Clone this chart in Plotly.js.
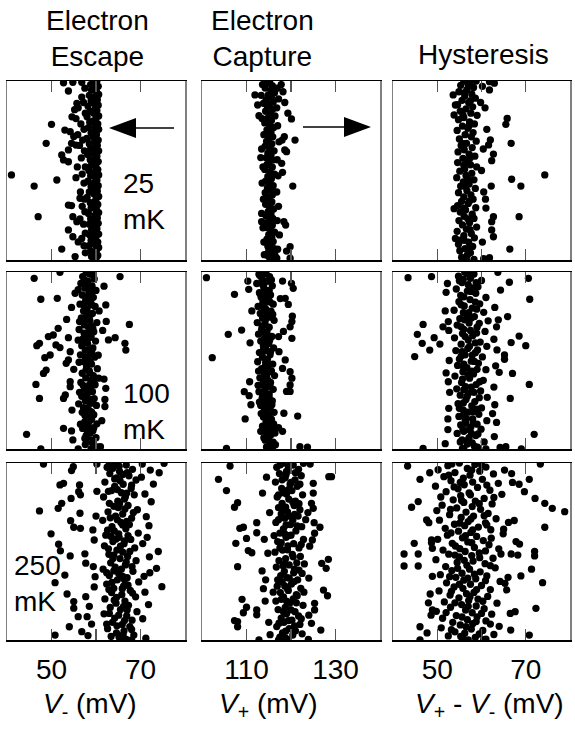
<!DOCTYPE html>
<html><head><meta charset="utf-8">
<script src="https://cdn.plot.ly/plotly-3.0.1.min.js"></script>
<style>html,body{margin:0;padding:0;background:#fff}#chart{width:575px;height:730px}</style>
</head><body><div id="chart"></div>
<script>
// ---- DATA: [voltage (mV), sweep index 0..100 (top = 0)] ----
const columnTitles = ['Electron<br>Escape', 'Electron<br>Capture', 'Hysteresis'];
const tempLabels = ['25<br>mK', '100<br>mK', '250<br>mK'];
const xTitles = ['<i>V</i><sub>-</sub> (mV)', '<i>V</i><sub>+</sub> (mV)', '<i>V</i><sub>+</sub> - <i>V</i><sub>-</sub> (mV)'];
const xLabelVals = [[50, 70], [110, 130], [50, 70]];
const xMinorVals = [[60], [120], [60]];

const escape25 = [[60.2,0],[59.8,1.5],[60.5,3],[59.4,4.5],[60.1,6],[60.6,7.5],[59.7,9],[60.3,10.5],[59.2,12],[60.5,13.5],[59.9,15],[60.2,16.5],[59.5,18],[60.6,19.5],[60.0,21],[59.3,22.5],[60.4,24],[59.8,25.5],[60.6,27],[59.6,28.5],[60.1,30],[59.4,31.5],[60.5,33],[59.9,34.5],[60.3,36],[59.7,37.5],[60.6,39],[59.5,40.5],[60.2,42],[59.8,43.5],[60.5,45],[59.3,46.5],[60.0,48],[60.4,49.5],[59.6,51],[60.6,52.5],[59.9,54],[60.2,55.5],[59.4,57],[60.5,58.5],[59.8,60],[60.3,61.5],[59.5,63],[60.6,64.5],[60.0,66],[59.7,67.5],[60.4,69],[59.2,70.5],[60.1,72],[60.6,73.5],[59.8,75],[60.3,76.5],[59.5,78],[60.5,79.5],[59.9,81],[60.2,82.5],[59.6,84],[60.6,85.5],[60.0,87],[59.4,88.5],[60.4,90],[59.8,91.5],[60.6,93],[60.1,94.5],[59.7,96],[60.4,97.5],[60.0,99],
[58.8,2],[59.0,5],[58.5,8],[58.9,11],[58.2,14],[58.7,17],[58.0,20],[58.6,23],[58.3,26],[58.9,29],[57.9,32],[58.5,35],[58.8,38],[58.1,41],[58.7,44],[59.0,47],[58.4,50],[58.8,53],[58.2,56],[58.9,59],[58.5,62],[58.0,65],[58.7,68],[58.9,71],[58.3,74],[58.8,77],[58.5,80],[59.0,83],[58.6,86],[58.9,89],[58.4,92],[58.8,95],[59.0,98],
[57.5,4],[56.8,9],[57.2,12],[56.0,15],[57.6,18],[55.5,21],[56.6,24],[57.3,27],[55.9,30],[57.0,33],[56.3,36],[57.4,39],[56.7,43],[57.6,48],[56.9,52],[57.3,57],[56.5,62],[57.4,66],[56.9,70],[57.5,73],[56.4,77],[57.2,80],[57.6,85],[56.8,88],[57.3,92],[57.6,96],
[52.7,1],[54.8,0.7],[56.8,0.7],[53.8,5.6],[55.7,12.5],[50.0,24.2],[53.0,27.4],[54.2,28.3],[48.8,34.8],[54.5,34.8],[55.5,35.8],[52.3,41.3],[52.7,44.1],[53.8,45.1],[53.8,38.5],[41.0,52.5],[51.2,55.3],[55.5,54],[46.1,58.7],[56.4,65.5],[53.8,69.3],[54.5,69.6],[47.0,75.8],[54.8,75.8],[55.7,78.6],[53.8,83.2],[54.8,87],[56.0,89.9],[52.3,93.9],[55.3,98.1],[55.2,16],[54.6,20],[55.0,31],[55.8,48]];

const capture25 = [[115.2,0],[114.6,1.3],[115.8,2.6],[114.2,3.9],[115.5,5.2],[116.3,6.5],[114.9,7.8],[115.6,9.1],[114.4,10.4],[116.0,11.7],[115.1,13],[114.7,14.3],[115.9,15.6],[114.3,16.9],[115.4,18.2],[116.4,19.5],[114.8,20.8],[115.6,22.1],[114.1,23.4],[115.2,24.7],[116.1,26],[114.6,27.3],[115.5,28.6],[114.3,29.9],[115.9,31.2],[115.0,32.5],[114.5,33.8],[115.7,35.1],[114.2,36.4],[115.3,37.7],[116.2,39],[114.8,40.3],[115.5,41.6],[114.4,42.9],[115.9,44.2],[115.0,45.5],[114.6,46.8],[115.8,48.1],[114.1,49.4],[115.3,50.7],[116.3,52],[114.8,53.3],[115.6,54.6],[114.3,55.9],[115.1,57.2],[116.0,58.5],[114.7,59.8],[115.4,61.1],[114.2,62.4],[115.8,63.7],[115.0,65],[114.5,66.3],[115.7,67.6],[114.3,68.9],[115.2,70.2],[116.1,71.5],[114.9,72.8],[115.5,74.1],[114.4,75.4],[115.9,76.7],[115.1,78],[114.6,79.3],[115.8,80.6],[114.5,81.9],[115.4,83.2],[116.3,84.5],[115.0,85.8],[115.7,87.1],[114.6,88.4],[116.0,89.7],[115.3,91],[114.8,92.3],[116.2,93.6],[115.0,94.9],[115.6,96.2],[116.4,97.5],[115.2,98.8],[115.8,100],
[113.6,2],[116.9,4],[113.3,8],[117.2,10],[113.8,12.5],[116.8,15],[113.5,21],[117.0,25],[113.9,30],[117.3,34],[113.4,38],[116.9,44],[113.7,48],[117.1,53],[113.5,57],[116.8,62],[113.8,66],[117.2,70],[113.4,74],[116.9,78],[113.7,82],[117.4,86],[113.9,90],[117.0,94],[114.0,97],
[111.9,7.8],[112.5,13.4],[112.8,19.4],[119.3,18],[120.1,21.2],[120.9,33],[118.5,31.1],[118.0,33],[119.0,39.5],[118.6,38.5],[113.2,42.8],[120.4,58.7],[117.9,46],[118.1,51],[113.4,78.6],[118.4,78.6],[118.8,80.5],[119.8,92.6],[119.0,95],[114.5,97.2],[116.8,99],[119.8,99],[118.2,6],[118.6,12],[117.8,2]];

const hyst25 = [[56.0,0],[57.4,1.2],[55.3,2.4],[58.2,3.6],[56.7,4.8],[54.9,6],[57.8,7.2],[56.2,8.4],[58.6,9.6],[55.6,10.8],[57.1,12],[54.6,13.2],[58.0,14.4],[56.5,15.6],[55.2,16.8],[57.6,18],[59.0,19.2],[56.0,20.4],[54.8,21.6],[57.3,22.8],[58.4,24],[55.7,25.2],[56.9,26.4],[54.5,27.6],[58.1,28.8],[56.3,30],[57.7,31.2],[55.0,32.4],[58.8,33.6],[56.6,34.8],[55.4,36],[57.9,37.2],[56.1,38.4],[54.7,39.6],[57.2,40.8],[58.5,42],[55.8,43.2],[56.8,44.4],[54.6,45.6],[57.5,46.8],[58.9,48],[56.2,49.2],[55.1,50.4],[57.8,51.6],[56.5,52.8],[54.4,54],[58.3,55.2],[55.9,56.4],[57.2,57.6],[55.3,58.8],[58.6,60],[56.7,61.2],[54.8,62.4],[57.6,63.6],[56.0,64.8],[58.1,66],[55.5,67.2],[57.0,68.4],[54.6,69.6],[58.7,70.8],[56.4,72],[55.2,73.2],[57.9,74.4],[56.1,75.6],[58.3,76.8],[54.9,78],[57.3,79.2],[55.7,80.4],[58.9,81.6],[56.6,82.8],[54.5,84],[57.7,85.2],[56.0,86.4],[58.4,87.6],[55.4,88.8],[57.1,90],[54.8,91.2],[58.0,92.4],[56.3,93.6],[55.1,94.8],[57.5,96],[56.8,97.2],[55.5,98.4],[58.3,99.6],
[57.0,2],[56.2,6.5],[57.5,11],[55.8,19],[57.2,25],[55.9,35],[57.4,43],[56.0,47],[57.0,55],[56.4,59],[57.3,67],[55.9,71],[56.9,77],[57.4,83],[56.1,89],[57.3,93],[56.6,100],
[61.8,0.4],[62.9,1.2],[61.8,5],[58.8,0],[60.2,3],[65.8,20.9],[65.5,24.2],[66.7,34.8],[62.0,32.9],[61.6,35.7],[62.7,40.8],[62.3,44.5],[74.3,52.5],[66.8,54.9],[68.9,58.7],[62.2,58.7],[60.5,62],[68.5,75.8],[62.7,75.8],[62.3,78.6],[62.3,83.2],[62.7,87],[66.4,93.9],[61.8,98.7],[60.5,99.3],[53.6,7.8],[54.1,13.4],[53.8,19],[53.8,71.3],[54.1,88],[60.8,15],[61.2,27],[60.4,38],[60.9,66],[61.0,71],[60.2,90],[59.8,12],[60.0,50]];

const escape100 = [[57.8,0],[58.9,1.3],[57.0,2.6],[59.6,3.9],[58.2,5.2],[56.6,6.5],[59.1,7.8],[57.5,9.1],[60.0,10.4],[58.4,11.7],[56.9,13],[59.4,14.3],[57.7,15.6],[58.8,16.9],[56.4,18.2],[59.8,19.5],[58.0,20.8],[57.2,22.1],[59.2,23.4],[57.9,24.7],[56.7,26],[58.6,27.3],[60.2,28.6],[57.4,29.9],[58.3,31.2],[56.2,32.5],[59.5,33.8],[57.8,35.1],[58.9,36.4],[57.1,37.7],[59.9,39],[58.1,40.3],[56.8,41.6],[59.3,42.9],[57.6,44.2],[58.7,45.5],[56.5,46.8],[59.7,48.1],[58.2,49.4],[57.3,50.7],[59.0,52],[57.9,53.3],[60.3,54.6],[58.5,55.9],[56.9,57.2],[59.4,58.5],[57.7,59.8],[58.8,61.1],[56.6,62.4],[59.8,63.7],[58.1,65],[57.4,66.3],[59.2,67.6],[58.0,68.9],[56.8,70.2],[59.6,71.5],[57.6,72.8],[58.6,74.1],[60.1,75.4],[57.2,76.7],[58.4,78],[56.9,79.3],[59.5,80.6],[58.0,81.9],[59.0,83.2],[57.5,84.5],[60.2,85.8],[58.3,87.1],[57.0,88.4],[59.3,89.7],[58.7,91],[57.8,92.3],[60.0,93.6],[58.5,94.9],[59.1,96.2],[57.6,97.5],[60.4,98.8],[58.9,100],
[58.5,1],[57.4,4.5],[58.6,8.5],[56.0,10],[58.9,12.5],[57.5,17.5],[60.7,22],[58.4,26],[56.3,28],[59.0,30.5],[58.5,34],[56.0,38.5],[58.4,44],[60.5,47],[56.2,51],[58.6,57],[60.6,60],[58.4,64],[56.3,68],[58.8,72],[56.1,74.5],[58.3,82.5],[56.5,86],[58.9,95],[59.8,99],
[59.3,0.5],[57.9,6],[59.4,10],[57.9,14],[59.0,18.5],[57.4,21],[58.8,24],[57.5,27],[59.3,32],[57.3,34.5],[58.6,37],[57.7,39.5],[59.1,46],[57.6,48],[58.7,51],[57.8,55],[59.4,62],[57.1,64],[58.8,66.5],[57.8,70.5],[59.1,74],[57.9,77],[59.0,79],[57.5,81],[58.6,84],[57.5,86.5],[59.5,88],[58.1,90],[57.5,94],[59.4,97.5],
[46.1,3.6],[51.9,0.2],[65.4,2.6],[47.6,15.4],[51.3,14.9],[62.2,18.6],[67.5,29.6],[51.5,31.8],[50.4,35.6],[49.3,36.5],[47.3,40.3],[46.7,41.6],[51.0,41.2],[51.9,42.7],[53.8,37.1],[62.8,38.4],[64.3,37.1],[66.5,40.3],[66.7,44.1],[48.5,48.4],[49.7,46.9],[54.2,45],[53.8,49.7],[53.3,51.6],[48.8,55.4],[48.2,57.3],[46.5,63.5],[47.3,71.4],[54.2,62],[54.2,64.8],[52.7,71.4],[53.1,69.5],[62.2,65.7],[61.8,60.5],[62.0,72],[62.0,76],[44.4,91.7],[47.6,100],[52.7,88.3],[54.5,89.8],[54.8,94.9],[56.0,100],[61.0,98.7],[54.5,20],[53.4,26.8],[55.3,12],[61.8,8],[62.3,27.9],[61.5,33],[55.0,55],[54.6,78],[61.3,84]];

const capture100 = [[114.0,0],[112.8,1.3],[115.2,2.6],[113.5,3.9],[114.7,5.2],[112.3,6.5],[115.8,7.8],[113.9,9.1],[114.5,10.4],[112.9,11.7],[115.4,13],[113.3,14.3],[114.9,15.6],[113.7,16.9],[116.0,18.2],[112.6,19.5],[114.3,20.8],[115.5,22.1],[113.1,23.4],[114.8,24.7],[113.6,26],[116.2,27.3],[112.4,28.6],[114.2,29.9],[115.1,31.2],[113.4,32.5],[114.6,33.8],[112.7,35.1],[115.7,36.4],[114.0,37.7],[113.2,39],[115.0,40.3],[113.8,41.6],[116.1,42.9],[114.4,44.2],[112.9,45.5],[115.3,46.8],[113.6,48.1],[114.7,49.4],[112.5,50.7],[115.9,52],[114.2,53.3],[113.4,54.6],[115.6,55.9],[114.0,57.2],[116.3,58.5],[113.0,59.8],[114.8,61.1],[115.4,62.4],[113.7,63.7],[114.5,65],[116.0,66.3],[112.8,67.6],[115.1,68.9],[114.3,70.2],[113.5,71.5],[115.8,72.8],[114.6,74.1],[113.2,75.4],[115.3,76.7],[114.0,78],[116.2,79.3],[114.9,80.6],[113.8,81.9],[115.6,83.2],[114.4,84.5],[116.1,85.8],[113.6,87.1],[115.0,88.4],[114.2,89.7],[116.4,91],[115.4,92.3],[113.9,93.6],[114.8,94.9],[116.0,96.2],[115.2,97.5],[114.5,98.8],[115.7,100],
[113.0,2],[114.1,6],[113.1,12.5],[114.1,17.5],[113.9,22],[115.2,25.5],[113.5,30.5],[114.5,36],[113.8,44],[114.3,51],[112.7,56],[114.3,60.5],[112.6,64],[114.1,66.5],[113.6,70],[112.9,73.5],[114.0,77],[113.3,80],[114.9,86],[113.2,90],[114.2,95],
[114.4,1],[115.6,4.5],[113.6,7],[115.1,10.5],[114.0,13.5],[115.3,17],[113.4,19],[114.7,23],[115.9,24],[114.2,27.5],[113.8,34],[115.2,38.5],[114.6,41],[115.4,45],[113.5,46],[114.9,53],[115.0,56.5],[114.5,59],[113.8,62],[115.3,64.5],[115.1,71],[113.9,73],[115.7,75],[114.6,79],[115.1,82],[115.8,89],[114.6,91],[115.0,93],[115.9,98.5],
[101.0,3.2],[107.3,12.6],[105.9,35.2],[108.9,32.8],[102.3,48.4],[110.3,5.1],[110.5,9.8],[118.1,5.1],[120.1,6.4],[120.5,9.2],[118.7,14.9],[119.4,18.3],[120.3,25],[120.2,28],[119.8,31],[120.2,37.5],[118.3,33.6],[117.2,36.5],[118.7,49.7],[119.8,56.3],[120.2,60],[119.8,63.8],[119.8,67.5],[118.1,54.5],[119.0,67.5],[109.5,67.6],[110.6,69.9],[109.7,83],[121.5,81.4],[118.4,79.8],[118.1,90],[105.5,99.6],[122.0,98.7],[123.7,98.9],[116.5,97.6],[110.7,62],[111.0,75],[117.3,45],[110.8,40],[111.2,22],[117.6,15],[117.2,88]];

const hyst100 = [[56.2,0],[58.3,1.2],[54.8,2.4],[57.5,3.6],[60.0,4.8],[55.6,6],[57.0,7.2],[59.2,8.4],[54.3,9.6],[56.8,10.8],[58.7,12],[55.3,13.2],[61.0,14.4],[57.4,15.6],[54.9,16.8],[59.6,18],[56.1,19.2],[57.9,20.4],[53.8,21.6],[60.5,22.8],[56.6,24],[58.4,25.2],[55.1,26.4],[61.5,27.6],[57.2,28.8],[54.5,30],[59.0,31.2],[56.0,32.4],[60.8,33.6],[55.7,34.8],[58.0,36],[53.9,37.2],[57.0,38.4],[59.7,39.6],[55.4,40.8],[61.2,42],[56.9,43.2],[54.2,44.4],[58.6,45.6],[56.3,46.8],[60.2,48],[55.0,49.2],[57.7,50.4],[59.3,51.6],[54.6,52.8],[56.7,54],[61.0,55.2],[55.8,56.4],[58.2,57.6],[54.0,58.8],[57.3,60],[60.4,61.2],[55.5,62.4],[58.8,63.6],[56.4,64.8],[54.4,66],[59.8,67.2],[57.1,68.4],[55.2,69.6],[61.3,70.8],[56.5,72],[58.5,73.2],[54.7,74.4],[57.8,75.6],[60.0,76.8],[55.9,78],[57.0,79.2],[59.4,80.4],[54.9,81.6],[56.6,82.8],[61.2,84],[58.1,85.2],[55.3,86.4],[57.6,87.6],[59.9,88.8],[56.0,90],[54.5,91.2],[58.7,92.4],[57.2,93.6],[55.6,94.8],[60.6,96],[56.8,97.2],[58.4,98.4],[55.7,99.6],
[57.8,1.5],[55.9,4],[58.0,9],[56.0,14],[58.6,17],[57.1,23],[56.2,27],[59.5,29],[57.5,33],[56.3,36.5],[58.6,40],[55.6,45],[57.9,47],[56.0,52],[59.0,55],[56.9,58],[57.7,65],[59.5,71],[55.9,74],[58.1,79],[56.3,83.5],[59.0,86],[55.8,89],[57.7,91],[56.9,95],[59.1,99],
[56.8,0.8],[55.0,5],[58.8,6],[57.6,11],[55.4,18.5],[58.9,21],[55.9,23],[57.7,26],[55.4,31],[58.9,34.5],[57.3,42],[59.1,44],[55.4,47.5],[58.4,50.5],[55.9,53.5],[57.8,56],[55.7,60.5],[59.6,62],[56.0,66.5],[58.3,68],[56.8,70],[55.0,77],[58.9,77.5],[55.8,81],[58.0,83],[56.4,85.5],[57.2,89],[59.2,91.5],[55.2,96],[57.9,96.5],[56.0,100],
[43.4,3.2],[48.7,2.6],[70.6,3.6],[70.9,15.4],[63.7,0.2],[66.3,5.8],[64.3,10.2],[65.9,25.2],[46.8,29.6],[45.5,35.2],[46.6,40.3],[44.9,47.8],[49.3,37.1],[50.6,40.7],[48.3,44.1],[68.5,36.2],[66.7,39.9],[70.0,41.6],[65.2,46.9],[65.2,49.3],[67.0,57.3],[64.0,56.7],[70.8,63.5],[66.5,71.4],[52.4,83],[71.9,91.7],[46.8,99.6],[69.0,100],[64.2,99.1],[65.5,98.7],[61.0,100],[52.3,6.5],[52.0,11.5],[51.8,22],[52.5,28],[51.3,31],[52.6,33],[63.0,20],[63.4,31],[62.8,38],[63.5,44],[52.7,50],[63.2,53],[52.5,62],[62.8,65],[52.8,68],[63.0,75],[52.6,77],[62.5,80],[63.4,85],[52.4,89],[62.9,93],[51.8,97],[63.8,27],[52.0,57]];

const escape250 = [[64.0,0],[66.8,1.2],[62.5,2.4],[68.2,3.6],[65.3,4.8],[63.1,6],[67.4,7.2],[64.6,8.4],[69.0,9.6],[62.0,10.8],[66.1,12],[64.2,13.2],[67.9,14.4],[63.5,15.6],[65.7,16.8],[68.6,18],[61.7,19.2],[66.4,20.4],[64.9,21.6],[63.0,22.8],[67.2,24],[65.0,25.2],[69.3,26.4],[62.7,27.6],[66.0,28.8],[64.4,30],[68.0,31.2],[61.5,32.4],[65.6,33.6],[67.5,34.8],[63.6,36],[66.7,37.2],[64.1,38.4],[69.5,39.6],[62.2,40.8],[65.2,42],[67.8,43.2],[63.8,44.4],[66.3,45.6],[61.9,46.8],[68.7,48],[64.7,49.2],[66.0,50.4],[62.9,51.6],[67.1,52.8],[65.4,54],[69.0,55.2],[63.3,56.4],[66.6,57.6],[64.3,58.8],[61.6,60],[68.3,61.2],[65.1,62.4],[63.0,63.6],[67.0,64.8],[64.8,66],[69.6,67.2],[62.4,68.4],[66.2,69.6],[64.0,70.8],[67.7,72],[63.5,73.2],[65.8,74.4],[68.9,75.6],[62.0,76.8],[66.5,78],[64.5,79.2],[67.3,80.4],[63.2,81.6],[65.5,82.8],[69.2,84],[61.8,85.2],[66.9,86.4],[64.2,87.6],[68.1,88.8],[63.7,90],[65.9,91.2],[67.6,92.4],[62.6,93.6],[66.3,94.8],[64.6,96],[68.5,97.2],[65.2,98.4],[66.8,99.6],
[65.2,1.8],[63.8,3],[66.0,6.5],[65.4,10],[64.8,15],[66.9,17],[65.3,23],[66.5,26],[64.8,32],[66.0,35],[65.1,40],[63.4,41.5],[66.4,44],[65.5,47],[64.0,52],[66.8,56],[65.7,60],[64.0,61],[66.4,66],[65.9,71],[64.6,76],[66.2,81],[65.1,86],[64.7,92],[66.1,97],
[63.0,1],[67.0,5.5],[64.2,9],[68.0,12.5],[62.8,16],[66.6,19],[64.0,24.5],[68.4,28],[63.2,31],[66.9,33],[62.6,38],[67.2,41],[64.5,43],[62.8,48.5],[67.6,50],[63.8,54],[68.1,58.5],[62.4,62],[66.0,64],[63.6,67.5],[67.2,69],[62.9,71.5],[68.2,73.5],[64.1,77.5],[67.0,83],[63.0,85],[66.4,89],[62.4,91],[68.0,94],[63.4,98],[66.0,100],
[48.2,0.6],[54.9,2.1],[54.5,4.3],[60.2,0.6],[70.4,0.6],[72.2,4],[75.3,0.2],[74.2,5.5],[72.9,11.9],[52.7,11.5],[51.9,12.4],[56.3,12.4],[56.1,16.2],[56.5,18],[54.4,20],[52.3,22.8],[51.5,25.6],[47.3,27.1],[56.4,28.4],[54.3,32.6],[55.0,36.3],[56.5,36.9],[59.3,37.8],[59.6,43.5],[71.0,17.5],[72.4,21.9],[71.3,30.3],[71.9,35.4],[71.5,42],[70.5,45.5],[51.6,45.9],[52.0,49.6],[54.2,52.5],[57.5,51.3],[57.7,56.6],[50.8,67.6],[53.0,63.3],[59.4,58.5],[59.8,64.2],[73.6,59.5],[72.1,62],[74.8,69.9],[74.0,50],[72.0,53],[70.8,64],[71.0,73],[55.0,78.3],[55.0,82],[57.7,75.5],[56.0,86.8],[58.0,86.8],[54.0,92.5],[56.8,95.3],[50.8,97.2],[59.0,91],[58.5,81],[71.2,99],[68.0,100],[70.5,88],[71.8,80],[59.6,70],[60.0,30],[60.2,16],[70.2,8],[53.5,74],[49.9,40],[58.2,97.5]];

const capture250 = [[118.2,0],[120.5,1.2],[116.8,2.4],[121.7,3.6],[119.0,4.8],[117.4,6],[122.3,7.2],[118.7,8.4],[120.9,9.6],[116.5,10.8],[119.8,12],[121.4,13.2],[117.9,14.4],[120.2,15.6],[118.4,16.8],[122.6,18],[116.9,19.2],[119.5,20.4],[121.0,21.6],[118.0,22.8],[120.7,24],[117.2,25.2],[122.0,26.4],[119.2,27.6],[117.8,28.8],[121.6,30],[118.6,31.2],[120.4,32.4],[116.6,33.6],[119.9,34.8],[122.4,36],[118.3,37.2],[121.1,38.4],[117.5,39.6],[120.0,40.8],[118.9,42],[122.8,43.2],[117.0,44.4],[120.6,45.6],[119.3,46.8],[121.8,48],[118.1,49.2],[116.4,50.4],[120.3,51.6],[122.1,52.8],[118.8,54],[117.3,55.2],[121.3,56.4],[119.6,57.6],[116.7,58.8],[120.8,60],[118.5,61.2],[122.5,62.4],[117.7,63.6],[119.1,64.8],[121.5,66],[118.0,67.2],[120.1,68.4],[116.9,69.6],[122.2,70.8],[119.4,72],[117.6,73.2],[121.2,74.4],[118.3,75.6],[120.5,76.8],[116.6,78],[119.7,79.2],[122.7,80.4],[118.7,81.6],[117.1,82.8],[120.9,84],[119.0,85.2],[121.7,86.4],[117.8,87.6],[120.2,88.8],[118.4,90],[122.0,91.2],[116.8,92.4],[119.6,93.6],[121.0,94.8],[118.1,96],[120.4,97.2],[117.5,98.4],[119.2,99.6],
[119.4,2],[118.9,6.5],[120.0,11],[119.0,17.5],[118.8,25],[119.6,30],[118.9,35],[119.5,41],[119.2,49],[118.6,57],[119.6,65],[119.2,71],[119.0,78],[120.0,83],[119.4,89],[118.8,95],[120.4,22],[117.8,45],[120.6,62],[121.4,75],
[117.6,1],[121.0,5.5],[118.0,9.5],[122.0,12],[119.4,15],[117.2,18],[121.8,23],[118.2,26.5],[120.8,29],[117.2,32],[121.4,35.5],[118.6,40],[122.3,46],[117.5,48],[120.5,53],[118.2,58],[121.8,60.5],[117.0,66],[120.7,67],[118.6,69.5],[122.9,73],[117.8,77],[121.2,79],[118.3,84],[122.3,88],[117.3,90.5],[120.8,92],[122.5,96.5],[118.8,99],[116.0,73],[116.2,41],[123.0,57],[123.3,32],
[106.3,1.7],[103.7,9.2],[105.5,15.6],[108.0,22.4],[107.3,25],[112.3,33.7],[108.5,36.9],[109.3,36.3],[112.3,39.4],[110.0,42.6],[114.0,43.1],[107.6,45.4],[110.4,49.5],[111.2,50.7],[114.8,51],[108.0,58.6],[113.5,61],[114.3,66],[109.0,77],[110.0,81.5],[109.3,84.6],[112.3,83],[112.3,85.8],[107.3,89],[108.0,89.6],[108.0,92.5],[112.8,100],[115.3,97],[117.2,100],[113.6,17],[114.5,8],[115.2,28],[113.8,71],[114.2,78],[115.0,90],[122.8,0.2],[124.3,0.6],[128.5,7.7],[129.1,7.7],[125.0,11.5],[125.0,17],[124.6,22.8],[125.0,25.6],[125.2,33.7],[126.5,36.3],[125.3,39.7],[124.8,43.5],[128.4,54.4],[126.9,56.7],[127.9,59.5],[124.0,65],[127.3,71.8],[128.2,75],[125.3,79.3],[125.3,83],[124.6,90.6],[126.7,94.4],[123.9,99.6],[124.2,47],[123.8,28],[124.0,86]];

const hyst250 = [[55.0,0],[58.5,0.8],[52.4,1.5],[61.0,2.3],[56.8,3.1],[50.2,3.8],[59.6,4.6],[54.0,5.4],[62.7,6.2],[57.4,6.9],[51.5,7.7],[55.9,8.5],[60.2,9.2],[53.1,10],[58.0,10.8],[63.8,11.5],[56.1,12.3],[49.6,13.1],[59.1,13.8],[54.7,14.6],[61.9,15.4],[52.0,16.2],[57.2,16.9],[64.6,17.7],[55.3,18.5],[50.8,19.2],[60.6,20],[53.6,20.8],[58.6,21.5],[56.0,22.3],[62.4,23.1],[51.1,23.8],[57.9,24.6],[54.4,25.4],[59.8,26.2],[49.9,26.9],[56.5,27.7],[61.5,28.5],[52.8,29.2],[58.2,30],[55.4,30.8],[63.3,31.5],[50.5,32.3],[57.0,33.1],[60.9,33.8],[53.9,34.6],[56.2,35.4],[59.3,36.2],[51.8,36.9],[62.1,37.7],[54.8,38.5],[57.6,39.2],[64.9,40],[52.3,40.8],[58.9,41.5],[55.7,42.3],[50.1,43.1],[60.4,43.8],[56.9,44.6],[53.4,45.4],[61.7,46.2],[54.1,46.9],[58.4,47.7],[63.9,48.5],[51.3,49.2],[56.3,50],[59.5,50.8],[52.6,51.5],[57.8,52.3],[55.0,53.1],[62.6,53.8],[49.7,54.6],[58.1,55.4],[54.5,56.2],[60.8,56.9],[56.7,57.7],[51.9,58.5],[63.1,59.2],[57.3,60],[53.3,60.8],[59.7,61.5],[55.6,62.3],[50.7,63.1],[61.2,63.8],[54.2,64.6],[58.7,65.4],[56.0,66.2],[64.2,66.9],[52.1,67.7],[57.5,68.5],[60.0,69.2],[53.8,70],[55.8,70.8],[62.0,71.5],[50.4,72.3],[58.3,73.1],[56.6,73.8],[52.9,74.6],[61.4,75.4],[54.9,76.2],[59.2,76.9],[57.1,77.7],[51.6,78.5],[63.5,79.2],[55.5,80],[58.8,80.8],[53.0,81.5],[60.6,82.3],[56.4,83.1],[49.8,83.8],[57.9,84.6],[62.3,85.4],[54.3,86.2],[59.0,86.9],[51.2,87.7],[56.8,88.5],[61.0,89.2],[53.5,90],[58.0,90.8],[55.2,91.5],[64.0,92.3],[50.9,93.1],[57.7,93.8],[60.3,94.6],[54.0,95.4],[56.2,96.2],[62.8,96.9],[52.5,97.7],[58.6,98.5],[55.7,99.2],[57.0,100],
[53.3,0.5],[60.0,1.2],[57.8,4],[52.6,6.8],[55.2,11],[61.2,12.5],[53.8,13.5],[57.5,18],[62.8,19.5],[55.5,21.2],[59.5,23],[53.0,26.2],[60.6,29.8],[57.6,31.6],[55.1,34],[61.2,35],[58.0,37.8],[53.1,39.5],[56.4,41],[62.2,42.5],[57.8,45],[55.1,48.4],[60.9,49.7],[54.0,52],[59.6,53.5],[56.1,55],[62.0,58],[54.6,59.5],[58.4,62.8],[52.8,64.2],[56.9,65],[60.9,66.5],[55.0,68.5],[58.9,71.5],[53.2,72.5],[57.4,75.5],[60.3,78.1],[54.0,79],[57.0,81],[52.0,84.5],[60.0,85],[55.6,87],[58.8,89.6],[62.0,91],[56.5,92.5],[53.2,94.2],[59.5,96.6],[55.3,98],[60.5,99.8],
[43.3,1.7],[48.3,5.5],[46.1,9.2],[45.7,21.8],[44.2,25],[47.6,32.2],[48.1,33.7],[48.7,43.5],[48.7,45],[48.9,48.2],[44.8,45.4],[42.5,51.4],[45.7,51.4],[42.5,58.2],[45.7,58.2],[48.4,74],[48.0,79],[48.9,83],[48.6,86],[46.1,92.5],[46.1,100],[73.3,0.6],[70.8,9.2],[69.7,16.2],[67.0,11],[68.5,12],[72.1,20],[74.3,22.8],[76.0,25.6],[78.8,27.5],[74.3,36.3],[67.4,32.5],[66.1,33.6],[65.0,37.4],[67.8,44.4],[68.6,45.8],[72.0,50],[72.0,52.5],[68.2,52],[64.4,51.4],[66.7,51.4],[71.3,60],[68.9,63.8],[73.8,67.6],[66.0,64.6],[65.3,68],[65.7,71.7],[72.3,82.1],[67.6,84],[66.5,85],[70.8,97.2],[66.6,94.4],[61.0,99.5],[47.7,96],[48.9,64],[65.2,4],[66.8,6]];

const panels = [[escape25, capture25, hyst25], [escape100, capture100, hyst100], [escape250, capture250, hyst250]];

// ---- LAYOUT (pixel geometry of the 575x730 figure) ----
const W = 575, H = 730;
const colPx = [[7, 185], [202, 380], [393, 570]];
const rowPx = [[81, 260], [272, 449], [463, 640]];
const xRanges = [[40, 80], [100, 140], [40, 80]];
const px = v => v / W, py = v => 1 - v / H;
const FONT = 'Liberation Sans, Arial, sans-serif';
const FS = 28;

const traces = [];
const layout = {
  width: W, height: H, showlegend: false,
  margin: {l: 0, r: 0, t: 0, b: 0},
  paper_bgcolor: '#fff', plot_bgcolor: '#fff',
  font: {family: FONT, size: FS, color: '#000'},
  annotations: [], shapes: []
};

for (let r = 0; r < 3; r++) {
  for (let c = 0; c < 3; c++) {
    const n = r * 3 + c + 1;
    const sfx = n === 1 ? '' : String(n);
    const data = panels[r][c];
    traces.push({
      type: 'scatter', mode: 'markers',
      x: data.map(p => p[0]), y: data.map(p => p[1]),
      xaxis: 'x' + sfx, yaxis: 'y' + sfx,
      marker: {color: '#000', size: 7.3, line: {width: 0}},
      hoverinfo: 'skip'
    });
    layout['xaxis' + sfx] = {
      domain: [px(colPx[c][0]), px(colPx[c][1])],
      anchor: 'y' + sfx,
      range: xRanges[c], fixedrange: true,
      showgrid: false, zeroline: false,
      showline: true, linecolor: '#000', linewidth: 1.5, mirror: 'allticks',
      ticks: 'inside', ticklen: 11, tickwidth: 1.3, tickcolor: '#555',
      tickmode: 'array', tickvals: xLabelVals[c],
      minor: {tickmode: 'array', tickvals: xMinorVals[c], ticks: 'inside', ticklen: 11, tickwidth: 1.3, tickcolor: '#555', showgrid: false},
      showticklabels: r === 2, ticklabelstandoff: 4,
      tickfont: {family: FONT, size: FS, color: '#000'}
    };
    layout['yaxis' + sfx] = {
      domain: [py(rowPx[r][1]), py(rowPx[r][0])],
      anchor: 'x' + sfx,
      range: [100, 0], fixedrange: true,
      showgrid: false, zeroline: false,
      showline: true, linecolor: '#808080', linewidth: 1.5, mirror: true,
      ticks: '', showticklabels: false
    };
  }
}

// column titles
const titlePx = [[97, 38], [262, 38], [483, 55]];
columnTitles.forEach((t, c) => layout.annotations.push({
  text: t, xref: 'paper', yref: 'paper', x: px(titlePx[c][0]), y: py(titlePx[c][1]),
  xanchor: 'center', yanchor: 'middle', showarrow: false, align: 'center',
  font: {family: FONT, size: FS, color: '#000'}
}));
// temperature labels
const tempPx = [[121, 202], [121, 411], [12, 583]];
tempLabels.forEach((t, r) => layout.annotations.push({
  text: t, xref: 'paper', yref: 'paper', x: px(tempPx[r][0]), y: py(tempPx[r][1]),
  xanchor: 'left', yanchor: 'middle', showarrow: false, align: 'left',
  font: {family: FONT, size: FS, color: '#000'}
}));
// x-axis titles
const xtPx = [[90, 705], [268, 705], [489, 705]];
xTitles.forEach((t, c) => layout.annotations.push({
  text: t, xref: 'paper', yref: 'paper', x: px(xtPx[c][0]), y: py(xtPx[c][1]),
  xanchor: 'center', yanchor: 'middle', showarrow: false,
  font: {family: FONT, size: FS, color: '#000'}
}));

// arrows (escape: pointing left, capture: pointing right)
function arrow(lineX0, lineX1, baseX, tipX, yc) {
  layout.shapes.push({type: 'line', xref: 'paper', yref: 'paper',
    x0: px(lineX0), x1: px(lineX1), y0: py(yc), y1: py(yc), line: {color: '#000', width: 1.3}});
  layout.shapes.push({type: 'path', xref: 'paper', yref: 'paper',
    path: `M ${px(tipX)} ${py(yc)} L ${px(baseX)} ${py(yc - 10)} L ${px(baseX)} ${py(yc + 10)} Z`,
    fillcolor: '#000', line: {width: 0}});
}
arrow(174, 136, 136, 109, 128);
arrow(303, 344, 344, 371, 127);

Plotly.newPlot('chart', traces, layout, {displayModeBar: false, staticPlot: true});
</script></body></html>
